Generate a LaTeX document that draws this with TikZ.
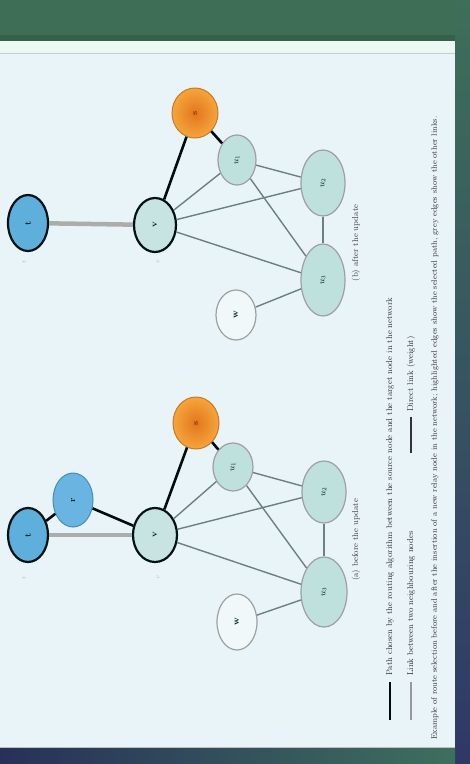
\documentclass[tikz,border=0pt]{standalone}
\usetikzlibrary{shapes.geometric}
\begin{document}
\begin{tikzpicture}[x=1pt,y=-1pt,
  nd/.style={ellipse, rotate=90, inner sep=0pt, font=\fontsize{9}{10}\selectfont\bfseries, text=black!75!teal},
  orangenode/.style={nd, draw={rgb,255:red,200;green,120;blue,40}, line width=1pt, inner color={rgb,255:red,228;green,118;blue,30}, outer color={rgb,255:red,245;green,165;blue,60}, text={rgb,255:red,140;green,50;blue,10}},
  bluenode/.style={nd, draw=black!85!teal, line width=2.2pt, fill={rgb,255:red,95;green,175;blue,220}},
  bluenodeb/.style={nd, draw={rgb,255:red,70;green,140;blue,190}, line width=1pt, fill={rgb,255:red,105;green,180;blue,225}},
  centnode/.style={nd, draw=black!85!teal, line width=2.2pt, fill={rgb,255:red,200;green,228;blue,226}},
  tealnode/.style={nd, draw=gray!75, line width=1.2pt, fill={rgb,255:red,190;green,225;blue,222}},
  whitenode/.style={nd, draw=gray!75, line width=1.2pt, fill={rgb,255:red,240;green,248;blue,250}},
  gedge/.style={draw=gray!85!teal, line width=1.4pt},
  bedge/.style={draw=black!90!teal, line width=2.6pt},
  wedge/.style={draw=gray!65, line width=4.5pt},
  smalllab/.style={rotate=90, font=\fontsize{6}{7}\selectfont, text=gray!60},
  leg/.style={rotate=90, anchor=west, font=\fontsize{8.5}{10}\selectfont, text=black!80, inner sep=0pt},
  captext/.style={rotate=90, font=\fontsize{8.5}{10}\selectfont, text=black!75, inner sep=0pt}]
\useasboundingbox (0,0) rectangle (470,764);
% frame
\fill[color={rgb,255:red,62;green,111;blue,86}] (0,0) rectangle (470,764);
\shade[top color={rgb,255:red,62;green,111;blue,90}, bottom color={rgb,255:red,48;green,56;blue,102}] (455,0) rectangle (470,764);
\shade[left color={rgb,255:red,40;green,48;blue,90}, right color={rgb,255:red,62;green,111;blue,94}] (0,748) rectangle (455,764);
\fill[color={rgb,255:red,52;green,96;blue,76}] (0,35) rectangle (455,41);
\fill[color={rgb,255:red,236;green,248;blue,243}] (0,41) rectangle (455,52);
\fill[color={rgb,255:red,233;green,244;blue,249}] (0,52) rectangle (455,747);
\draw[gray!40, line width=0.8pt] (0,53) -- (455,53);
\draw[gray!50, line width=0.8pt] (0,747) -- (455,747);

% ---------- upper subfigure ----------
\node[bluenode, minimum width=56pt, minimum height=40pt] (bU) at (28,223) {t};
\node[centnode, minimum width=54pt, minimum height=42pt] (cU) at (155,225) {v};
\node[orangenode, minimum width=50pt, minimum height=46pt] (oU) at (195,113) {s};
\node[tealnode, minimum width=50pt, minimum height=38pt] (bbU) at (237,160) {$u_1$};
\node[tealnode, minimum width=66pt, minimum height=44pt] (ccU) at (323,183) {$u_2$};
\node[tealnode, minimum width=72pt, minimum height=44pt] (ddU) at (323,280) {$u_3$};
\node[whitenode, minimum width=50pt, minimum height=40pt] (eU) at (236,315) {w};
\path[wedge] (bU) -- (cU);
\path[gedge] (cU) -- (bbU);
\path[gedge] (cU) -- (ccU);
\path[gedge] (cU) -- (ddU);
\path[gedge] (bbU) -- (ccU);
\path[gedge] (bbU) -- (ddU);
\path[gedge] (ccU) -- (ddU);
\path[gedge] (eU) -- (ddU);
\path[bedge] (oU) -- (cU);
\path[bedge] (oU) -- (bbU);
\node[smalllab] (lbU) at (24,262) {$t$};
\node[smalllab] (lcU) at (158,262) {$v$};
\node[captext] (capU) at (356,243) {(b) after the update};

% ---------- lower subfigure ----------
\node[bluenode, minimum width=54pt, minimum height=40pt] (b1L) at (28,535) {t};
\node[bluenodeb, minimum width=54pt, minimum height=40pt] (b2L) at (73,500) {r};
\node[centnode, minimum width=54pt, minimum height=44pt] (cL) at (155,535) {v};
\node[orangenode, minimum width=52pt, minimum height=46pt] (oL) at (196,423) {s};
\node[tealnode, minimum width=48pt, minimum height=40pt] (bbL) at (233,467) {$u_1$};
\node[tealnode, minimum width=62pt, minimum height=44pt] (ccL) at (324,492) {$u_2$};
\node[tealnode, minimum width=70pt, minimum height=46pt] (ddL) at (324,592) {$u_3$};
\node[whitenode, minimum width=56pt, minimum height=40pt] (eL) at (237,622) {w};
\path[wedge] (b1L) -- (cL);
\path[gedge] (cL) -- (bbL);
\path[gedge] (cL) -- (ccL);
\path[gedge] (cL) -- (ddL);
\path[gedge] (bbL) -- (ccL);
\path[gedge] (bbL) -- (ddL);
\path[gedge] (ccL) -- (ddL);
\path[gedge] (eL) -- (ddL);
\path[bedge] (b1L) -- (b2L);
\path[bedge] (b2L) -- (cL);
\path[bedge] (oL) -- (cL);
\path[bedge] (oL) -- (bbL);
\node[smalllab] (lbL) at (24,578) {$t$};
\node[smalllab] (lcL) at (158,578) {$v$};
\node[captext] (capL) at (356,540) {(a) before the update};

% ---------- legend ----------
\coordinate (s1a) at (390,720); \coordinate (s1b) at (390,682);
\path[bedge] (s1a) -- (s1b);
\node[leg] (t1) at (390,676) {Path chosen by the routing algorithm between the source node and the target node in the network};
\coordinate (s2a) at (411,720); \coordinate (s2b) at (411,682);
\path[draw=gray!80, line width=1.2pt] (s2a) -- (s2b);
\node[leg] (t2) at (411,676) {Link between two neighbouring nodes};
\coordinate (s3a) at (411,453); \coordinate (s3b) at (411,417);
\path[draw=black!80, line width=1.6pt] (s3a) -- (s3b);
\node[leg] (t3) at (411,412) {Direct link (weight)};
\node[leg, font=\fontsize{8}{9}\selectfont] (t4) at (435,740) {Example of route selection before and after the insertion of a new relay node in the network; highlighted edges show the selected path, grey edges show the other links.};
\end{tikzpicture}
\end{document}
